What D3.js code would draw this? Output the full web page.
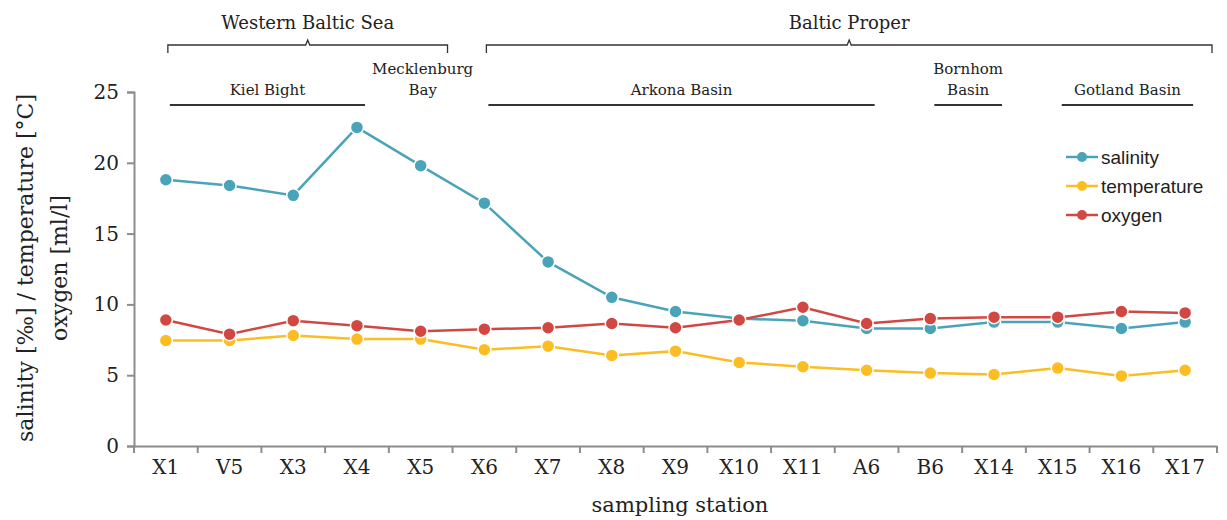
<!DOCTYPE html>
<html>
<head>
<meta charset="utf-8">
<script src="https://cdn.jsdelivr.net/npm/d3@7"></script>
<style>
  body { margin: 0; background: #fff; }
  text { fill: #222; }
</style>
</head>
<body>
<svg id="chart" width="1227" height="520"></svg>
<script>
// data
let stations = ["X1", "V5", "X3", "X4", "X5", "X6", "X7", "X8", "X9", "X10", "X11", "A6", "B6", "X14", "X15", "X16", "X17"];
let salinity = [18.8, 18.4, 17.7, 22.5, 19.8, 17.15, 13.0, 10.5, 9.5, 9.0, 8.85, 8.3, 8.3, 8.75, 8.75, 8.3, 8.75];
let temperature = [7.45, 7.45, 7.8, 7.55, 7.55, 6.8, 7.05, 6.4, 6.7, 5.9, 5.6, 5.35, 5.15, 5.05, 5.5, 4.95, 5.35];
let oxygen = [8.9, 7.9, 8.85, 8.5, 8.1, 8.25, 8.35, 8.65, 8.35, 8.9, 9.8, 8.65, 9.0, 9.1, 9.1, 9.5, 9.4];
let yTicks = [0, 5, 10, 15, 20, 25];
let seriesNames = ["salinity", "temperature", "oxygen"];
let seriesColors = ["#4aa4b9", "#fbbd22", "#d14843"];
// regions: first and last station they span
let groups = [
  { name: "Western Baltic Sea", from: "X1", to: "X5" },
  { name: "Baltic Proper", from: "X6", to: "X17" }
];
let subRegions = [
  { name: ["Kiel Bight"], from: "X1", to: "X4", line: true },
  { name: ["Mecklenburg", "Bay"], from: "X5", to: "X5", line: false },
  { name: ["Arkona Basin"], from: "X6", to: "A6", line: true },
  { name: ["Bornhom", "Basin"], from: "B6", to: "X14", line: true },
  { name: ["Gotland  Basin"], from: "X15", to: "X17", line: true }
];

let svg = d3.select("#chart"),
    margin = { top: 92, right: 10, bottom: 74, left: 134 },
    width = +svg.attr("width") - margin.left - margin.right,
    height = +svg.attr("height") - margin.top - margin.bottom,
    g = svg.append("g").attr("transform", "translate(" + margin.left + "," + margin.top + ")");

let serif = "'DejaVu Serif', serif";

let x = d3.scaleBand().domain(stations).range([0, 1083]);
let y = d3.scaleLinear().domain([0, 25]).range([height, 0]);

let cx = function(s) { return x(s) + x.bandwidth() / 2; };

// axes
let xAxis = g.append("g")
    .attr("transform", "translate(0," + height + ")")
    .call(d3.axisBottom(x).tickSize(0).tickPadding(14));
xAxis.select(".domain").attr("stroke", "#8c8c8c").attr("stroke-width", 2);
xAxis.selectAll("text").attr("font-family", serif).attr("font-size", 20).attr("fill", "#222");
xAxis.selectAll(".sep")
  .data(stations.concat(["end"]))
  .enter().append("line")
    .attr("x1", function(d, i) { return i * x.step(); })
    .attr("x2", function(d, i) { return i * x.step(); })
    .attr("y1", 0).attr("y2", 7)
    .attr("stroke", "#8c8c8c").attr("stroke-width", 2);

let yAxis = g.append("g")
    .call(d3.axisLeft(y).tickValues(yTicks).tickSize(7).tickPadding(8));
yAxis.selectAll("path, line").attr("stroke", "#8c8c8c").attr("stroke-width", 2);
yAxis.selectAll("text").attr("font-family", serif).attr("font-size", 20).attr("fill", "#222");

// axis titles
svg.append("text")
    .attr("x", 680).attr("y", 512)
    .attr("text-anchor", "middle")
    .attr("font-family", serif).attr("font-size", 21)
    .text("sampling station");

let yTitle = svg.append("text")
    .attr("transform", "translate(33,268) rotate(-90)")
    .attr("text-anchor", "middle")
    .attr("font-family", serif).attr("font-size", 22);
yTitle.append("tspan").attr("x", 0).attr("dy", 0).text("salinity [‰] / temperature [°C]");
yTitle.append("tspan").attr("x", 0).attr("dy", 34).text("oxygen [ml/l]");

// series
let allSeries = [salinity, temperature, oxygen];
let line = d3.line()
    .x(function(d, i) { return cx(stations[i]); })
    .y(function(d) { return y(d); });

allSeries.forEach(function(vals, k) {
  g.append("path")
      .datum(vals)
      .attr("fill", "none")
      .attr("stroke", seriesColors[k])
      .attr("stroke-width", 2.5)
      .attr("d", line);
  g.append("g")
    .selectAll("circle")
    .data(vals)
    .enter().append("circle")
      .attr("cx", function(d, i) { return cx(stations[i]); })
      .attr("cy", function(d) { return y(d); })
      .attr("r", 6.5)
      .attr("fill", seriesColors[k])
      .attr("stroke", "#fff")
      .attr("stroke-width", 1.5);
});

// legend
let legend = svg.append("g")
    .attr("font-family", "'Liberation Sans', Arial, sans-serif")
    .attr("font-size", 19)
  .selectAll("g")
  .data(seriesNames)
  .enter().append("g")
    .attr("transform", function(d, i) { return "translate(1066," + (157 + i * 29) + ")"; });

legend.append("line")
    .attr("x1", 0).attr("x2", 32)
    .attr("stroke", function(d, i) { return seriesColors[i]; })
    .attr("stroke-width", 2.5);
legend.append("circle")
    .attr("cx", 16).attr("r", 5)
    .attr("fill", function(d, i) { return seriesColors[i]; });
legend.append("text")
    .attr("x", 35)
    .attr("dy", "0.35em")
    .attr("fill", "#333")
    .text(function(d) { return d; });

// region brackets on top
let annot = svg.append("g").attr("transform", "translate(" + margin.left + ",0)");
groups.forEach(function(gr) {
  let x0 = cx(gr.from) + 2, x1 = x(gr.to) + x.bandwidth() - 5;
  let mid = (x0 + x1) / 2;
  annot.append("path")
      .attr("d", "M" + x0 + ",53 L" + x0 + ",45 L" + (mid - 2) + ",45 L" + mid + ",40 L" + (mid + 2) + ",45 L" + x1 + ",45 L" + x1 + ",53")
      .attr("fill", "none")
      .attr("stroke", "#333")
      .attr("stroke-width", 1.3);
  annot.append("text")
      .attr("x", mid).attr("y", 29)
      .attr("text-anchor", "middle")
      .attr("font-family", serif).attr("font-size", 18)
      .text(gr.name);
});

subRegions.forEach(function(r) {
  let x0 = cx(r.from) + 4, x1 = cx(r.to) + 8;
  let mid = r.line ? (x0 + x1) / 2 : cx(r.from) + 2;
  if (r.line) {
    annot.append("line")
        .attr("x1", x0).attr("x2", x1)
        .attr("y1", 105).attr("y2", 105)
        .attr("stroke", "#333").attr("stroke-width", 1.8);
  }
  let t = annot.append("text")
      .attr("text-anchor", "middle")
      .attr("font-family", serif).attr("font-size", 15);
  r.name.forEach(function(s, i) {
    t.append("tspan")
        .attr("x", mid)
        .attr("y", 95 - (r.name.length - 1 - i) * 21)
        .text(s);
  });
});
</script>
</body>
</html>
